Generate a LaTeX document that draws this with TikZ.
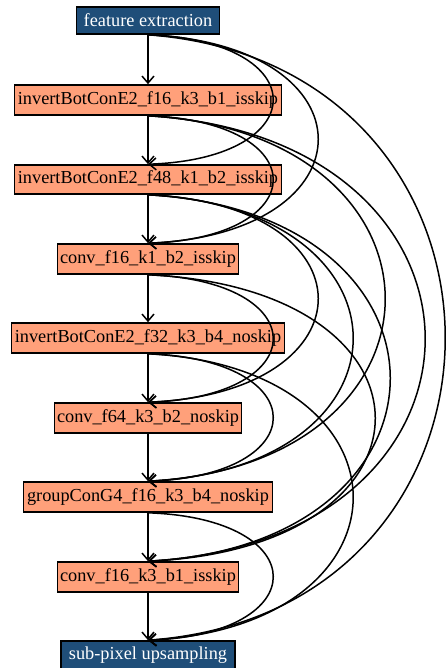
\documentclass[tikz,border=0pt]{standalone}
\usepackage{fontspec}
\setmainfont{Liberation Serif}
\usetikzlibrary{arrows.meta}
\definecolor{blk}{HTML}{1F4E79}
\definecolor{salm}{HTML}{FFA07A}
\tikzset{
  base/.style={draw=black, line width=1.6pt, rectangle, inner sep=0pt, font=\fontsize{18.3}{22}\selectfont},
  endbox/.style={base, fill=blk, text=white},
  layer/.style={base, fill=salm, text=black},
  link/.style={line width=1.5pt, -{Straight Barb[length=7pt,width=12pt]}},
}
\begin{document}
\begin{tikzpicture}[x=1pt,y=-1pt]
\useasboundingbox (0,0) rectangle (445,668);
\node[endbox, minimum width=143pt, minimum height=27pt] (n0) at (148,20.5) {feature extraction};
\node[layer, minimum width=267pt, minimum height=30pt] (n1) at (148,100) {invertBotConE2\_f16\_k3\_b1\_isskip};
\node[layer, minimum width=267pt, minimum height=29pt] (n2) at (148,179.5) {invertBotConE2\_f48\_k1\_b2\_isskip};
\node[layer, minimum width=181pt, minimum height=30pt] (n3) at (148,259) {conv\_f16\_k1\_b2\_isskip};
\node[layer, minimum width=273pt, minimum height=30pt] (n4) at (148,338) {invertBotConE2\_f32\_k3\_b4\_noskip};
\node[layer, minimum width=187pt, minimum height=30pt] (n5) at (148,418) {conv\_f64\_k3\_b2\_noskip};
\node[layer, minimum width=249pt, minimum height=30pt] (n6) at (148,497) {groupConG4\_f16\_k3\_b4\_noskip};
\node[layer, minimum width=181pt, minimum height=30pt] (n7) at (148,577) {conv\_f16\_k3\_b1\_isskip};
\node[endbox, minimum width=174pt, minimum height=28pt] (n8) at (148,655) {sub-pixel upsampling};
% straight links
\foreach \a/\b in {n0/n1,n1/n2,n2/n3,n3/n4,n4/n5,n5/n6,n6/n7,n7/n8}
  \draw[link] (\a.south) -- (\b.north);
% skip links
\draw[link] (n0.south) .. controls (314.7,40.5) and (314.7,158.5) .. (n2.north);
\draw[link] (n1.south) .. controls (314.7,121.5) and (314.7,237.5) .. (n3.north);
\draw[link] (n3.south) .. controls (314.7,280.5) and (314.7,396.5) .. (n5.north);
\draw[link] (n4.south) .. controls (314.7,359.5) and (314.7,475.5) .. (n6.north);
\draw[link] (n6.south) .. controls (314.7,518.5) and (314.7,634.5) .. (n8.north);
\draw[link] (n0.south) .. controls (374.7,44.5) and (374.7,233.5) .. (n3.north);
\draw[link] (n2.south) .. controls (374.7,204.5) and (374.7,392.5) .. (n5.north);
\draw[link] (n2.south) .. controls (421.3,208.4) and (421.3,467.6) .. (n6.north);
\draw[link] (n4.south) .. controls (421.3,367.4) and (421.3,626.6) .. (n8.north);
\draw[link] (n1.south) .. controls (464,133.4) and (464,463.6) .. (n6.north);
\draw[link] (n2.south) .. controls (470.7,212.4) and (470.7,543.6) .. (n7.north);
\draw[link] (n3.south) .. controls (450.7,288.4) and (450.7,547.6) .. (n7.north);
\draw[link] (n1.south) .. controls (517.3,137.4) and (517.3,539.6) .. (n7.north);
\draw[link] (n0.south) .. controls (544,64) and (544,611) .. (n8.north);
\end{tikzpicture}
\end{document}
